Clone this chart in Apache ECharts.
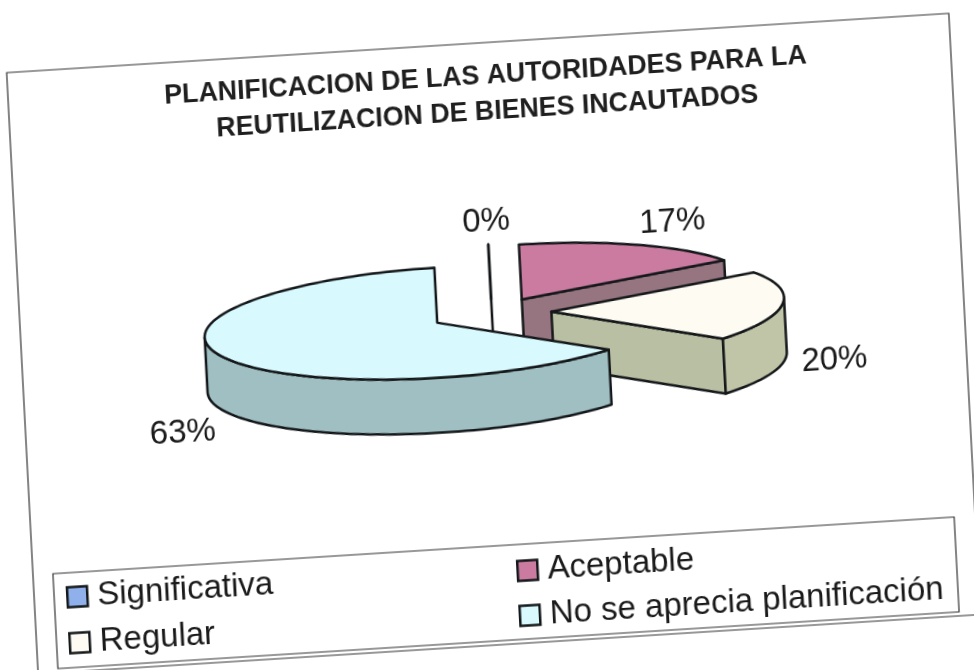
<!DOCTYPE html>
<html><head><meta charset="utf-8">
<style>html,body{margin:0;padding:0;background:#fff;overflow:hidden}
#c{width:974px;height:670px;transform-origin:center center;transform:matrix(.998,-.0628,.0523,.9986,0,0);filter:blur(.4px)}</style>
<script src="https://cdn.jsdelivr.net/npm/echarts@6/dist/echarts.min.js"></script>
</head><body><div id="c"></div>
<script>
const titleLines = ["PLANIFICACION DE LAS AUTORIDADES PARA LA", "REUTILIZACION DE BIENES INCAUTADOS"];
const categories = ["Significativa", "Aceptable", "Regular", "No se aprecia planificación"];
const values = [0, 17, 20, 63];
const topColors = ["#8fb0ea", "#cb7ba0", "#fefcf2", "#d8faff"];
const wallColors = ["#7f8fb0", "#967580", "#b9bfa2", "#9fbfc2"];
const rimColors = ["#7f8fb0", "#967580", "#c0c5a8", "#9fbfc2"];
const legendColumns = [["Significativa", "Regular"], ["Aceptable", "No se aprecia planificación"]];

const pie = {cx: 493, cy: 314, rx: 233, ry: 55, depth: 55, explode: 60};
const labelNudge = [[-1, -23], [36, -21], [49, 4], [-46, 17]];
const line = "#15181a";
const total = values.reduce((a, b) => a + b, 0);
const rad = v => v / total * Math.PI * 2;

function renderSlice(params, api) {
  const i = params.seriesIndex;
  const t0 = rad(values.slice(0, i).reduce((a, b) => a + b, 0));
  const t1 = t0 + rad(api.value(0));
  const mid = (t0 + t1) / 2;
  const ax = pie.cx + pie.explode * Math.sin(mid);
  const ay = pie.cy - pie.explode * (pie.ry / pie.rx) * Math.cos(mid);
  const rim = t => [ax + pie.rx * Math.sin(t), ay - pie.ry * Math.cos(t)];
  const down = p => [p[0], p[1] + pie.depth];
  const arc = (a, b) => {
    const n = Math.max(1, Math.ceil(Math.abs(b - a) / 0.03));
    const out = [];
    for (let k = 0; k <= n; k++) out.push(rim(a + (b - a) * k / n));
    return out;
  };
  const poly = (pts, fill) => ({
    type: "polygon", shape: {points: pts},
    style: {fill, stroke: line, lineWidth: 2.5, lineJoin: "round"}
  });
  const kids = [];
  const apex = [ax, ay];
  if (Math.sin(t0) < -1e-6) kids.push(poly([apex, rim(t0), down(rim(t0)), down(apex)], wallColors[i]));
  if (Math.sin(t1) >= -1e-9 && (Math.sin(t1) > 1e-6 || t1 === t0))
    kids.push(poly([apex, rim(t1), down(rim(t1)), down(apex)], wallColors[i]));
  const f0 = Math.max(t0, Math.PI / 2), f1 = Math.min(t1, Math.PI * 3 / 2);
  if (f1 > f0) {
    const a = arc(f0, f1);
    kids.push(poly(a.concat(a.slice().reverse().map(down)), rimColors[i]));
  }
  kids.push(poly([apex].concat(arc(t0, t1)), topColors[i]));
  const lp = rim(mid);
  const base = Math.cos(mid) < 0 ? down(lp) : lp;
  kids.push({
    type: "text", z2: 50,
    style: {
      text: Math.round(api.value(0) / total * 100) + "%",
      x: base[0] + labelNudge[i][0], y: base[1] + labelNudge[i][1],
      align: "center", verticalAlign: "middle",
      font: "33px 'Liberation Sans'", fill: "#1a1a1a"
    }
  });
  return {type: "group", children: kids};
}

const chart = echarts.init(document.getElementById("c"), null, {renderer: "canvas"});
const legendBase = {
  orient: "vertical", selectedMode: false, icon: "rect", itemWidth: 20, itemHeight: 20,
  padding: 0, inactiveColor: "#222",
  itemStyle: {borderColor: "#15181a", borderWidth: 2.5},
  textStyle: {fontFamily: "Liberation Sans", fontSize: 33, color: "#1a1a1a", padding: [0, 0, 0, 5]}
};
chart.setOption({
  animation: false,
  backgroundColor: "#fff",
  title: {
    text: titleLines.join("\n"), left: 494, top: 54, textAlign: "center",
    textStyle: {fontFamily: "Liberation Sans", fontWeight: "bold", fontSize: 26.8, lineHeight: 36, color: "#1f1f1f"}
  },
  legend: [
    Object.assign({}, legendBase, {left: 53, top: 554, itemGap: 13, data: legendColumns[0]}),
    Object.assign({}, legendBase, {left: 504, top: 556, itemGap: 12, data: legendColumns[1]})
  ],
  graphic: [
    {type: "rect", silent: true, z: -1, shape: {x: 21, y: 43, width: 944, height: 602}, style: {fill: "none", stroke: "#333", lineWidth: 1.2}},
    {type: "rect", silent: true, z: -1, shape: {x: 41, y: 546, width: 903, height: 95}, style: {fill: "none", stroke: "#333", lineWidth: 1.2}}
  ],
  series: categories.map((name, i) => ({
    type: "custom", name, coordinateSystem: "none", silent: true,
    itemStyle: {color: topColors[i]},
    renderItem: renderSlice,
    data: [[values[i]]],
    z: 2 + i
  }))
});
</script></body></html>
